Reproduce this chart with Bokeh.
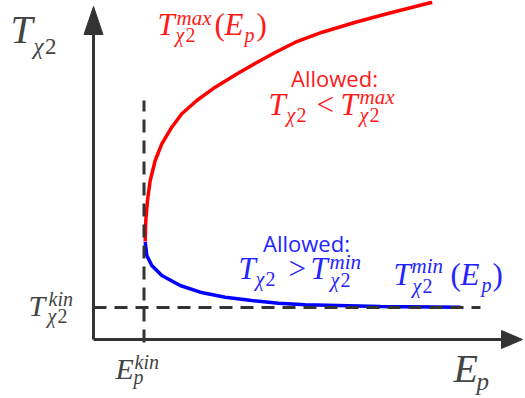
from bokeh.plotting import figure
from bokeh.models import Range1d, Label
from bokeh.embed import file_html
from bokeh.resources import INLINE

# ---- data (arbitrary units; origin at the axes corner) ----
ep_kin = 0.505          # E_p^kin
t_kin = 0.32            # T_chi2^kin
red_ep = [0.517, 0.523, 0.54, 0.567, 0.617, 0.683, 0.783, 0.883, 1.033, 1.217, 1.45, 1.62, 1.82, 2.02, 2.287, 2.62, 2.953, 3.387]
red_t = [0.98, 1.19, 1.39, 1.59, 1.79, 1.957, 2.123, 2.257, 2.39, 2.523, 2.665, 2.763, 2.873, 2.973, 3.073, 3.173, 3.263, 3.373]
blue_ep = [0.517, 0.533, 0.583, 0.683, 0.867, 1.067, 1.317, 1.583, 1.85, 2.117, 2.87, 3.67]
blue_t = [0.975, 0.84, 0.74, 0.64, 0.54, 0.473, 0.423, 0.39, 0.363, 0.347, 0.33, 0.323]

# axis / guide extents
x_axis_end, x_arrow_tip = 4.09, 4.29
y_axis_end, y_arrow_tip = 3.05, 3.33
x_head_half, y_head_half = 0.09, 0.095
vdash_lo, vdash_hi = -0.03, 2.39
hdash_hi = 3.87

W, H = 525, 398
X0, Y0 = 93, 339   # pixel of the origin
p = figure(width=W, height=H, output_backend="svg", toolbar_location=None,
           x_range=Range1d(-X0 / 100, (W - X0) / 100),
           y_range=Range1d((Y0 - H) / 100, Y0 / 100),
           x_axis_type=None, y_axis_type=None, min_border=0, title=None)
p.grid.visible = False
p.outline_line_color = None
p.background_fill_color = "white"
p.border_fill_color = "white"

# curves
p.line(red_ep, red_t, line_color="#ff0000", line_width=3.5)
p.line(blue_ep, blue_t, line_color="#0000ff", line_width=3.5)

# dashed guides
AX = "#333333"
p.line([ep_kin, ep_kin], [vdash_lo, vdash_hi], line_color=AX, line_width=3, line_dash="13 8")
p.line([0, hdash_hi], [t_kin, t_kin], line_color=AX, line_width=3, line_dash="13 8")

# axes with arrows
p.line([0, 0], [0, y_axis_end], line_color=AX, line_width=3)
p.line([0, x_axis_end], [0, 0], line_color=AX, line_width=3)
p.patch([0, -y_head_half, y_head_half], [y_arrow_tip, y_axis_end, y_axis_end],
        fill_color=AX, line_color=AX, line_width=1)
p.patch([x_arrow_tip, x_axis_end - 0.01, x_axis_end - 0.01], [0, x_head_half, -x_head_half],
        fill_color=AX, line_color=AX, line_width=1)


def X(px):
    return (px - X0) / 100


def Y(py):
    return (Y0 - py) / 100


def lab(px, py, text, size, color, style="italic", font="Liberation Serif", align="left"):
    # py is the wanted glyph baseline; compensate the renderer's baseline offset
    c = 0.39 if font == "Open Sans" else 0.34
    p.add_layout(Label(x=X(px), y=Y(py - c * size), text=text, text_font=font,
                       text_font_size=f"{size}px", text_font_style=style,
                       text_color=color, text_align=align, text_baseline="alphabetic"))


def chi2(px, py, size, color):
    lab(px, py, "χ", size, color)
    lab(px + 0.5 * size, py, "2", size, color, style="normal")


GRAY = "#444444"
RED = "#ff1a1a"
BLUE = "#2424ff"

# y-axis title  T_chi2
lab(10, 43, "T", 40, GRAY)
chi2(33, 54, 23, GRAY)
# T_chi2^kin
lab(28, 315, "T", 30, GRAY)
lab(48, 305, "kin", 20, GRAY)
chi2(47, 322, 20, GRAY)
# E_p^kin
lab(115, 378, "E", 30, GRAY)
lab(134, 368, "kin", 20, GRAY)
lab(133, 383, "p", 20, GRAY)
# E_p
lab(453, 382, "E", 40, GRAY)
lab(476, 389, "p", 25, GRAY)

# red: T_chi2^max(E_p)
lab(157, 35, "T", 31, RED)
lab(176, 25, "max", 21, RED)
chi2(175, 41, 20, RED)
lab(214, 35, "(", 31, RED, style="normal")
lab(224, 35, "E", 31, RED)
lab(244, 41, "p", 20, RED)
lab(256, 35, ")", 31, RED, style="normal")
# red: Allowed: T < Tmax
lab(334, 86, "Allowed:", 22, RED, style="normal", font="Open Sans", align="center")
lab(268, 115, "T", 31, RED)
chi2(286, 121, 20, RED)
lab(316, 115, "<", 31, RED, style="normal")
lab(340, 115, "T", 31, RED)
lab(359, 104, "max", 21, RED)
chi2(359, 121, 20, RED)

# blue: Allowed: T > Tmin
lab(306, 251, "Allowed:", 22, BLUE, style="normal", font="Open Sans", align="center")
lab(238, 279, "T", 31, BLUE)
chi2(255, 285, 20, BLUE)
lab(288, 279, ">", 31, BLUE, style="normal")
lab(310, 279, "T", 31, BLUE)
lab(329, 269, "min", 21, BLUE)
chi2(330, 286, 20, BLUE)
# blue: T_chi2^min(E_p)
lab(393, 285, "T", 31, BLUE)
lab(411, 273, "min", 21, BLUE)
chi2(412, 292, 20, BLUE)
lab(450, 285, "(", 31, BLUE, style="normal")
lab(460, 285, "E", 31, BLUE)
lab(481, 291, "p", 20, BLUE)
lab(492, 285, ")", 31, BLUE, style="normal")

open("out.html", "w").write(file_html(p, INLINE))
